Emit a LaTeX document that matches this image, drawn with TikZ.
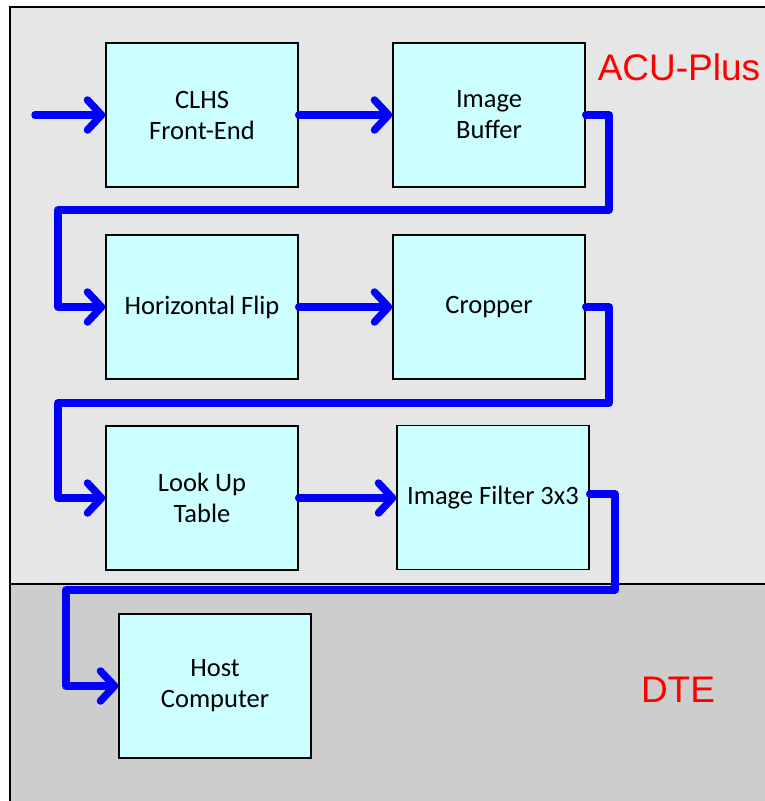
\documentclass[tikz,border=0pt]{standalone}
\usepackage{fontspec}
\setmainfont{Carlito}
\newfontfamily\arialfont{Liberation Sans}
\usetikzlibrary{arrows.meta}
\definecolor{boxfill}{HTML}{CCFFFF}
\definecolor{topbg}{HTML}{E6E6E6}
\definecolor{botbg}{HTML}{CDCDCD}
\definecolor{flow}{HTML}{0000FF}
\begin{document}
\begin{tikzpicture}[x=1pt,y=-1pt,
  blockbox/.style={draw=black,line width=1.5pt,fill=boxfill,minimum width=192pt,minimum height=144pt,inner sep=0pt,align=center,font=\fontsize{26.5}{31}\selectfont},
  flowline/.style={draw=flow,line width=7.5pt,line cap=round,line join=round},
  flowarrow/.style={flowline,-{Straight Barb[length=14pt,width=30pt,round]}},
  zonelabel/.style={text=red,font=\arialfont\fontsize{37}{40}\selectfont,inner sep=0pt}]
\useasboundingbox (0,0) rectangle (764,801);
\fill[topbg] (10,7) rectangle (775,584);
\fill[botbg] (10,584) rectangle (775,810);
\draw[line width=1.5pt] (10,810) -- (10,7) -- (775,7);
\draw[line width=1.5pt] (10,584) -- (775,584);
\node[zonelabel] (acu) at (679,67) {ACU-Plus};
\node[zonelabel] (dte) at (678,690) {DTE};
\node[blockbox] (clhs) at (202,115) {CLHS\\Front-End};
\node[blockbox] (buf) at (489,115) {Image\\Buffer};
\node[blockbox] (hflip) at (202,307) {Horizontal Flip};
\node[blockbox] (crop) at (489,307) {Cropper};
\node[blockbox] (lut) at (202,498) {Look Up\\Table};
\node[blockbox] (filt) at (493,497.5) {Image Filter 3x3};
\node[blockbox] (host) at (215,686) {Host\\Computer};
\coordinate (in) at (35,115);
\coordinate (a1) at (609,115);
\coordinate (a2) at (609,210);
\coordinate (a3) at (58,210);
\coordinate (a4) at (58,307);
\coordinate (b1) at (609,307);
\coordinate (b2) at (609,403);
\coordinate (b3) at (58,403);
\coordinate (b4) at (58,498);
\coordinate (c1) at (615,494);
\coordinate (c2) at (615,590);
\coordinate (c3) at (66,590);
\coordinate (c4) at (66,686);
\draw[flowarrow] (in) -- (clhs.west);
\draw[flowarrow] (clhs.east) -- (buf.west);
\draw[flowarrow] (buf.east) -- (a1) -- (a2) -- (a3) -- (a4) -- (hflip.west);
\draw[flowarrow] (hflip.east) -- (crop.west);
\draw[flowarrow] (crop.east) -- (b1) -- (b2) -- (b3) -- (b4) -- (lut.west);
\draw[flowarrow] (lut.east) -- (filt.west |- lut.east);
\draw[flowarrow] (filt.east |- c1) -- (c1) -- (c2) -- (c3) -- (c4) -- (host.west);
\end{tikzpicture}
\end{document}
